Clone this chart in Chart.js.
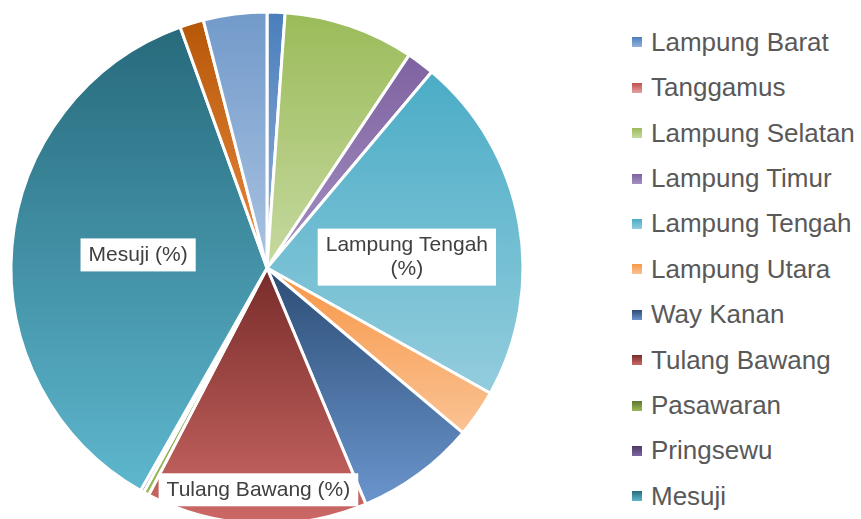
<!DOCTYPE html>
<html>
<head>
<meta charset="utf-8">
<script src="https://cdn.jsdelivr.net/npm/chart.js@4.4.1/dist/chart.umd.min.js"></script>
<style>
  html, body { margin: 0; width: 861px; height: 519px; overflow: hidden; background: #fff; }
  #pieWrap { position: absolute; left: -3px; top: -2px; width: 540px; height: 540px; }
  #legend { position: absolute; left: 632px; top: 0; font-family: "Liberation Sans", Arial, sans-serif; font-size: 26px; color: #595959; }
  .item { position: absolute; left: 0; height: 30px; display: flex; align-items: center; white-space: nowrap; }
  .box { width: 10px; height: 10px; margin-right: 9px; }
</style>
</head>
<body>
<div id="pieWrap"><canvas id="pie" width="540" height="540"></canvas></div>
<div id="legend"></div>
<script>
// regencies of Lampung, share in %
const regencies = ['Lampung Barat', 'Tanggamus', 'Lampung Selatan', 'Lampung Timur', 'Lampung Tengah',
  'Lampung Utara', 'Way Kanan', 'Tulang Bawang', 'Pasawaran', 'Pringsewu', 'Mesuji',
  'Tulang Bawang Barat', 'Pesisir Barat'];
const shares = [1.13, 0, 8.23, 1.75, 22.0, 3.0, 7.55, 13.95, 0.35, 0.22, 36.25, 1.5, 4.0];

// gradient colours per slice (top -> bottom)
const topColors = ['#4A7EBB', '#C0504D', '#9BBB59', '#7F62A1', '#4BACC6', '#F79646', '#2C4D75',
  '#772C2A', '#5F7530', '#4D3B62', '#276A7C', '#B65708', '#729ACA'];
const bottomColors = ['#94B3DB', '#E2A3A2', '#C6D9A0', '#A391C0', '#93CDDD', '#FAC394', '#6A95CD',
  '#CD6966', '#9BBB59', '#8064A2', '#5EB7CE', '#E98A40', '#AAC3E2'];

const legendCount = 11; // the rest is cut off in the original
const pieRadius = 256;

function sliceFill(context) {
  const i = context.dataIndex;
  const chart = context.chart;
  const area = chart.chartArea;
  if (!area) return topColors[i];
  const cx = (area.left + area.right) / 2, cy = (area.top + area.bottom) / 2;
  const total = shares.reduce((a, b) => a + b, 0);
  const before = shares.slice(0, i).reduce((a, b) => a + b, 0);
  const a0 = before / total * 2 * Math.PI;
  const a1 = (before + shares[i]) / total * 2 * Math.PI;
  const ys = [cy, cy - pieRadius * Math.cos(a0), cy - pieRadius * Math.cos(a1)];
  if (a0 <= 0) ys.push(cy - pieRadius);
  if (a0 <= Math.PI && a1 >= Math.PI) ys.push(cy + pieRadius);
  const y0 = Math.min(...ys);
  let y1 = Math.max(...ys);
  if (y1 - y0 < 1) y1 = y0 + 1;
  const g = chart.ctx.createLinearGradient(0, y0, 0, y1);
  g.addColorStop(0, topColors[i]);
  g.addColorStop(1, bottomColors[i]);
  return g;
}

// white boxed labels like Excel's data labels
const sliceLabels = {
  id: 'sliceLabels',
  afterDatasetsDraw(chart, args, opts) {
    const ctx = chart.ctx;
    const arcs = chart.getDatasetMeta(0).data;
    ctx.save();
    ctx.font = opts.font;
    ctx.textAlign = 'center';
    ctx.textBaseline = 'middle';
    opts.spots.forEach(s => {
      const p = arcs[s.index].getProps(['x', 'y', 'startAngle', 'endAngle', 'outerRadius'], true);
      const mid = (p.startAngle + p.endAngle) / 2 + s.shift * Math.PI / 180;
      const x = p.x + Math.cos(mid) * p.outerRadius * s.dist;
      const y = p.y + Math.sin(mid) * p.outerRadius * s.dist;
      const lines = s.wrap ? [regencies[s.index], '(%)'] : [regencies[s.index] + ' (%)'];
      const w = Math.max(...lines.map(l => ctx.measureText(l).width)) + 2 * opts.padX;
      const h = lines.length * opts.lineHeight + 2 * opts.padY;
      ctx.fillStyle = '#fff';
      ctx.fillRect(x - w / 2, y - h / 2, w, h);
      ctx.fillStyle = '#404040';
      lines.forEach((l, k) => ctx.fillText(l, x, y - h / 2 + opts.padY + opts.lineHeight * (k + 0.5)));
    });
    ctx.restore();
  }
};

new Chart(document.getElementById('pie'), {
  type: 'pie',
  data: {
    labels: regencies,
    datasets: [{
      data: shares,
      backgroundColor: sliceFill,
      borderColor: '#fff',
      borderWidth: 3
    }]
  },
  options: {
    responsive: false,
    animation: false,
    events: [],
    radius: pieRadius,
    layout: { padding: 0 },
    plugins: {
      legend: { display: false },
      tooltip: { enabled: false },
      sliceLabels: {
        font: '21px "Liberation Sans", Arial, sans-serif',
        lineHeight: 24,
        padX: 8,
        padY: 4.5,
        spots: [
          { index: 4, dist: 0.548, shift: 5.9, wrap: true },
          { index: 10, dist: 0.506, shift: 0.9, wrap: false },
          { index: 7, dist: 0.867, shift: -0.2, wrap: false }
        ]
      }
    }
  },
  plugins: [sliceLabels]
});

// legend
const legend = document.getElementById('legend');
regencies.slice(0, legendCount).forEach((name, i) => {
  const item = document.createElement('div');
  item.className = 'item';
  item.style.top = (27.3 + i * 45.4) + 'px';
  const box = document.createElement('span');
  box.className = 'box';
  box.style.background = 'linear-gradient(' + topColors[i] + ', ' + bottomColors[i] + ')';
  item.appendChild(box);
  item.appendChild(document.createTextNode(name));
  legend.appendChild(item);
});
</script>
</body>
</html>
